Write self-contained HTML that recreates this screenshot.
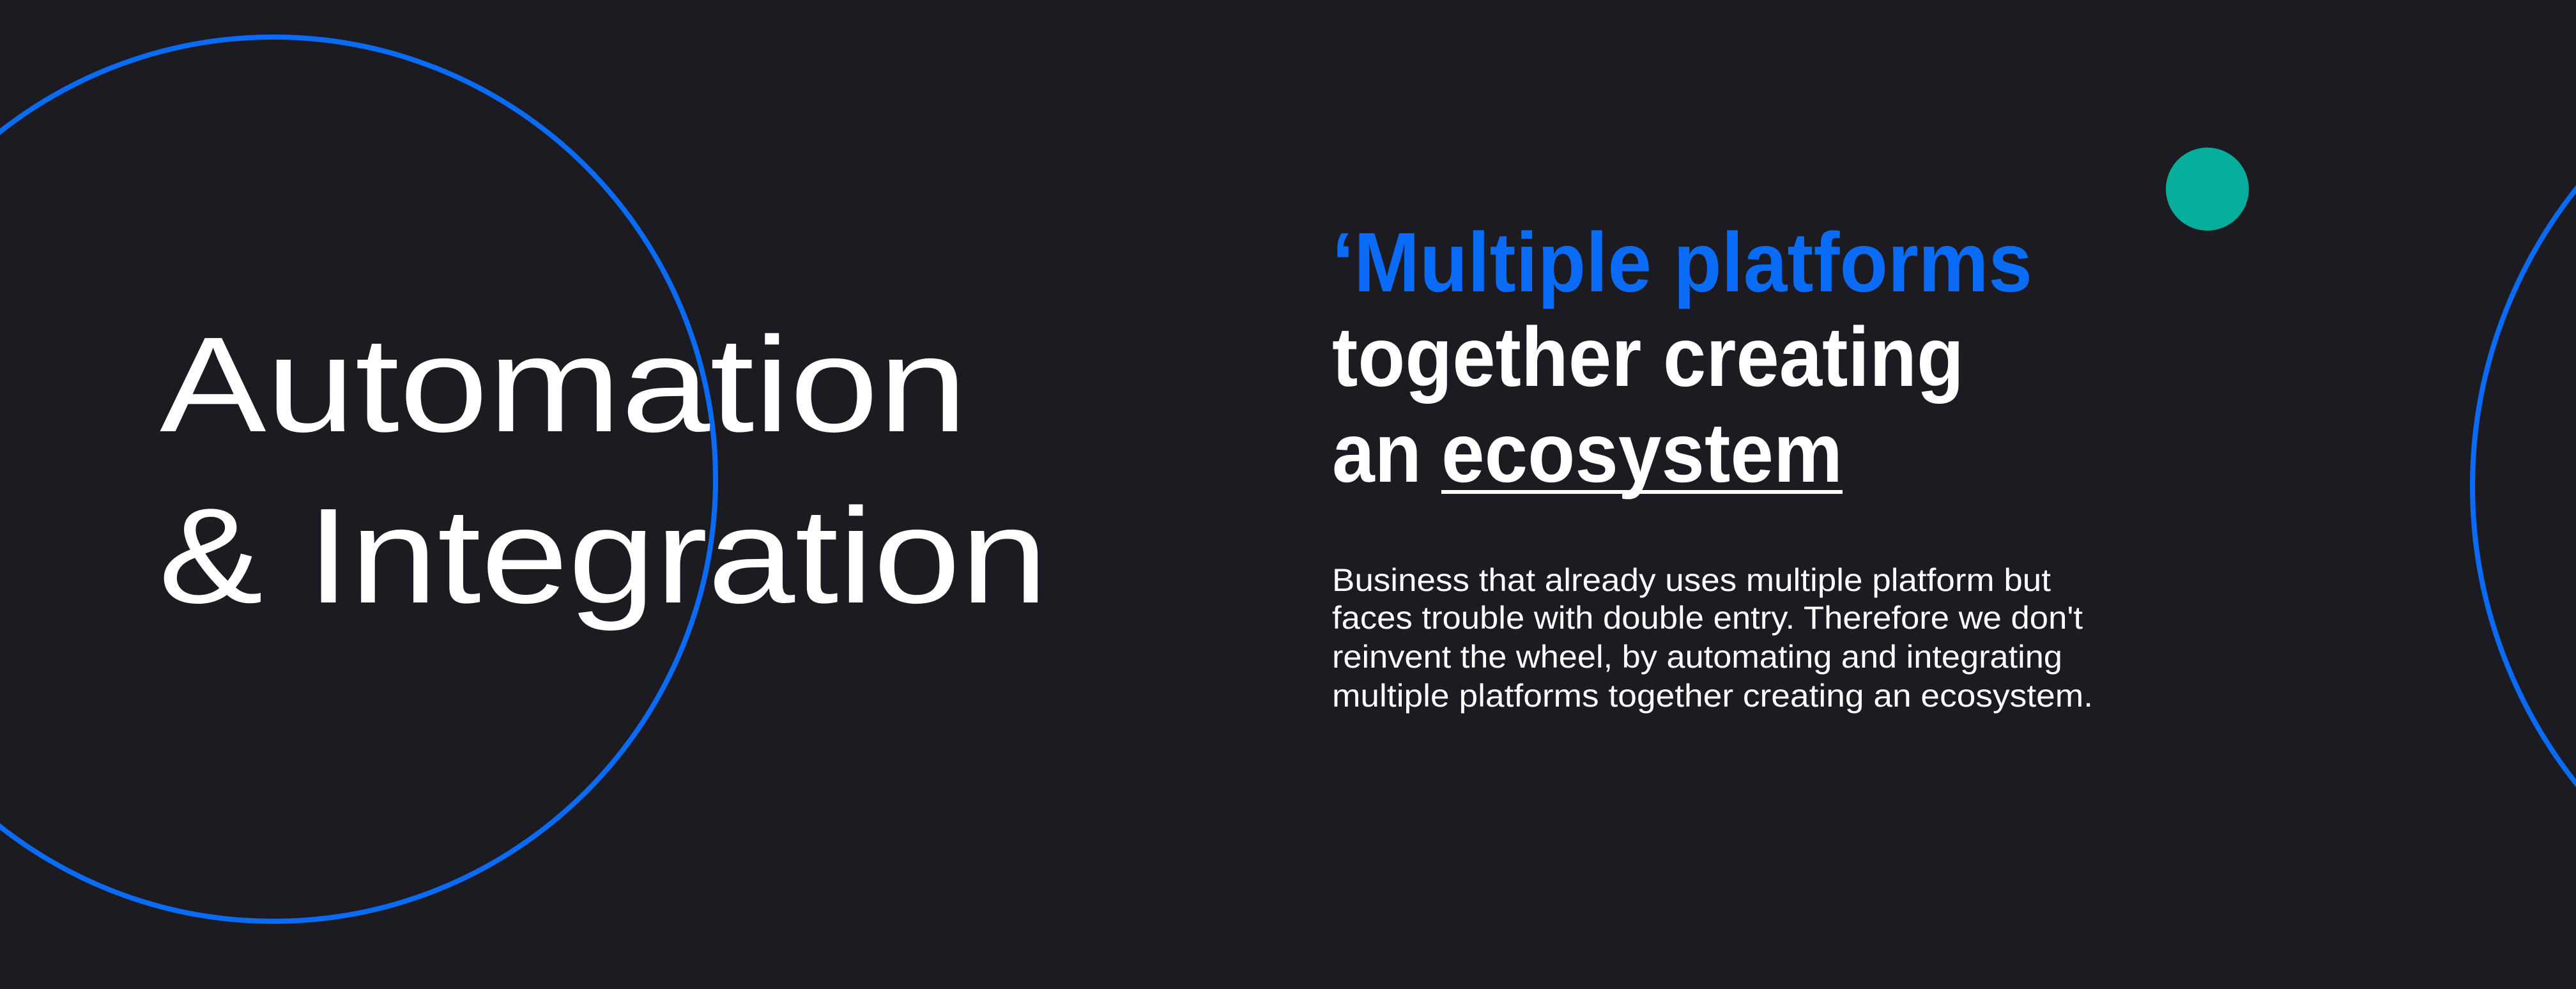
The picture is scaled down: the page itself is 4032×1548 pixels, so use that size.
<!DOCTYPE html>
<html><head><meta charset="utf-8"><style>
html,body{margin:0;padding:0;background:#1c1b21;}
svg{display:block}
</style></head><body>
<svg width="4032" height="1548" viewBox="0 0 4032 1548" xmlns="http://www.w3.org/2000/svg">
<rect width="4032" height="1548" fill="#1c1b21"/>
<circle cx="428" cy="750" r="692" fill="none" stroke="#0a6cf6" stroke-width="8"/>
<circle cx="4618" cy="761" r="748" fill="none" stroke="#0a6cf6" stroke-width="8"/>
<circle cx="3455" cy="296" r="65" fill="#06ad9d"/>
<g font-family="Liberation Sans, sans-serif" fill="#ffffff">
<text x="250" y="675" font-size="212" textLength="1264" lengthAdjust="spacingAndGlyphs">Automation</text>
<text x="248" y="943" font-size="212" textLength="1392" lengthAdjust="spacingAndGlyphs">&amp; Integration</text>
<text x="2085" y="456" font-size="132" font-weight="bold" fill="#0a6cf6" textLength="1096" lengthAdjust="spacingAndGlyphs">‘Multiple platforms</text>
<text x="2085" y="604" font-size="132" font-weight="bold" textLength="989" lengthAdjust="spacingAndGlyphs">together creating</text>
<text x="2085" y="754" font-size="132" font-weight="bold" textLength="140" lengthAdjust="spacingAndGlyphs">an</text>
<text x="2256" y="754" font-size="132" font-weight="bold" textLength="628" lengthAdjust="spacingAndGlyphs">ecosystem</text>
<rect x="2256" y="767" width="628" height="6" fill="#ffffff"/>
<g font-size="50">
<text x="2085" y="925" textLength="1125" lengthAdjust="spacingAndGlyphs">Business that already uses multiple platform but</text>
<text x="2085" y="984" textLength="1175" lengthAdjust="spacingAndGlyphs">faces trouble with double entry. Therefore we don't</text>
<text x="2085" y="1045" textLength="1143" lengthAdjust="spacingAndGlyphs">reinvent the wheel, by automating and integrating</text>
<text x="2085" y="1106" textLength="1191" lengthAdjust="spacingAndGlyphs">multiple platforms together creating an ecosystem.</text>
</g>
</g>
</svg>
</body></html>
